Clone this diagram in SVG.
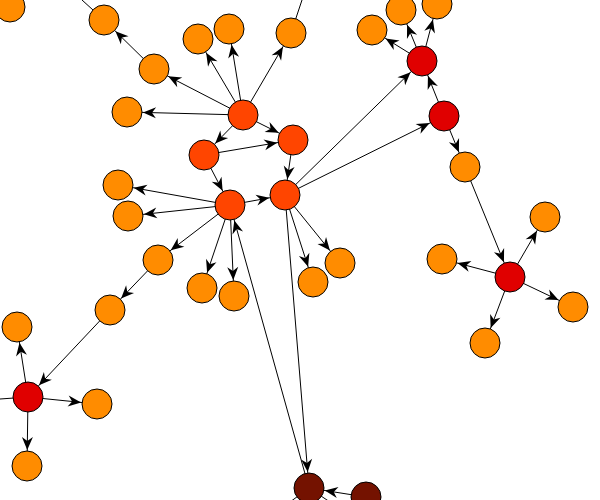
<svg xmlns="http://www.w3.org/2000/svg" width="600" height="500" viewBox="0 0 600 500">
<style>
.e line{stroke:#000;stroke-width:1}
.e line.a{marker-end:url(#arr)}
circle{stroke:#000;stroke-width:1}
.o{fill:#FF8C00}.r{fill:#FF4500}.d{fill:#E00000}.k{fill:#741200}
</style>
<defs>
<marker id="arr" viewBox="-30 -7 32 14" refX="0" refY="0" markerWidth="32" markerHeight="14" markerUnits="userSpaceOnUse" orient="auto" overflow="visible">
<path d="M-16,0 L-29,-5.5 L-25,0 L-29,5.5 Z" fill="#000"/>
</marker>
</defs>
<rect width="600" height="500" fill="#fff"/>
<g class="e" id="edges">
<line x1="104" y1="20" x2="82" y2="0"/>
<line x1="291" y1="33" x2="302" y2="0"/>
<line x1="28" y1="397" x2="0" y2="399"/>
<line x1="309" y1="488" x2="290" y2="502"/>
<line x1="309" y1="488" x2="330" y2="502"/>
<line class="a" x1="154" y1="69" x2="104" y2="20"/>
<line class="a" x1="243" y1="115" x2="154" y2="69"/>
<line class="a" x1="243" y1="115" x2="127" y2="112"/>
<line class="a" x1="243" y1="115" x2="198" y2="39"/>
<line class="a" x1="243" y1="115" x2="229" y2="29"/>
<line class="a" x1="243" y1="115" x2="291" y2="33"/>
<line class="a" x1="243" y1="115" x2="293" y2="140"/>
<line class="a" x1="243" y1="115" x2="204" y2="155"/>
<line class="a" x1="204" y1="155" x2="293" y2="140"/>
<line class="a" x1="204" y1="155" x2="230" y2="205"/>
<line class="a" x1="293" y1="140" x2="285" y2="195"/>
<line class="a" x1="230" y1="205" x2="285" y2="195"/>
<line class="a" x1="230" y1="205" x2="118" y2="185"/>
<line class="a" x1="230" y1="205" x2="128" y2="216"/>
<line class="a" x1="422" y1="61" x2="372" y2="30"/>
<line class="a" x1="422" y1="61" x2="401" y2="10"/>
<line class="a" x1="422" y1="61" x2="437" y2="4"/>
<line class="a" x1="444" y1="116" x2="422" y2="61"/>
<line class="a" x1="444" y1="116" x2="465" y2="167"/>
<line class="a" x1="285" y1="195" x2="422" y2="61"/>
<line class="a" x1="285" y1="195" x2="444" y2="116"/>
<line class="a" x1="465" y1="167" x2="510" y2="277"/>
<line class="a" x1="510" y1="277" x2="442" y2="259"/>
<line class="a" x1="510" y1="277" x2="545" y2="217"/>
<line class="a" x1="510" y1="277" x2="573" y2="307"/>
<line class="a" x1="510" y1="277" x2="485" y2="343"/>
<line class="a" x1="285" y1="195" x2="340" y2="263"/>
<line class="a" x1="285" y1="195" x2="313" y2="282"/>
<line class="a" x1="285" y1="195" x2="309" y2="488"/>
<line class="a" x1="366" y1="497" x2="309" y2="488"/>
<line class="a" x1="309" y1="488" x2="230" y2="205"/>
<line class="a" x1="230" y1="205" x2="158" y2="260"/>
<line class="a" x1="158" y1="260" x2="110" y2="310"/>
<line class="a" x1="110" y1="310" x2="28" y2="397"/>
<line class="a" x1="28" y1="397" x2="17" y2="327"/>
<line class="a" x1="28" y1="397" x2="97" y2="404"/>
<line class="a" x1="28" y1="397" x2="27" y2="466"/>
<line class="a" x1="230" y1="205" x2="202" y2="288"/>
<line class="a" x1="230" y1="205" x2="234" y2="296"/>
</g>
<g id="nA"><circle class="o" cx="10" cy="7" r="15"/></g>
<g id="nB"><circle class="o" cx="104" cy="20" r="15"/></g>
<g id="nC"><circle class="o" cx="154" cy="69" r="15"/></g>
<g id="nD"><circle class="o" cx="127" cy="112" r="15"/></g>
<g id="nE"><circle class="r" cx="243" cy="115" r="15"/></g>
<g id="nF"><circle class="o" cx="198" cy="39" r="15"/></g>
<g id="nG"><circle class="o" cx="229" cy="29" r="15"/></g>
<g id="nH"><circle class="o" cx="291" cy="33" r="15"/></g>
<g id="nI"><circle class="r" cx="293" cy="140" r="15"/></g>
<g id="nJ"><circle class="r" cx="204" cy="155" r="15"/></g>
<g id="nK"><circle class="r" cx="230" cy="205" r="15"/></g>
<g id="nL"><circle class="r" cx="285" cy="195" r="15"/></g>
<g id="nM"><circle class="o" cx="118" cy="185" r="15"/></g>
<g id="nN"><circle class="o" cx="128" cy="216" r="15"/></g>
<g id="nO"><circle class="o" cx="372" cy="30" r="15"/></g>
<g id="nP"><circle class="o" cx="401" cy="10" r="15"/></g>
<g id="nQ"><circle class="o" cx="437" cy="4" r="15"/></g>
<g id="nR"><circle class="d" cx="422" cy="61" r="15"/></g>
<g id="nS"><circle class="d" cx="444" cy="116" r="15"/></g>
<g id="nT"><circle class="o" cx="465" cy="167" r="15"/></g>
<g id="nU"><circle class="o" cx="545" cy="217" r="15"/></g>
<g id="nV"><circle class="d" cx="510" cy="277" r="15"/></g>
<g id="nW"><circle class="o" cx="442" cy="259" r="15"/></g>
<g id="nX"><circle class="o" cx="573" cy="307" r="15"/></g>
<g id="nY"><circle class="o" cx="485" cy="343" r="15"/></g>
<g id="nZ"><circle class="o" cx="340" cy="263" r="15"/></g>
<g id="nAA"><circle class="o" cx="313" cy="282" r="15"/></g>
<g id="nBB"><circle class="k" cx="309" cy="488" r="15"/></g>
<g id="nCC"><circle class="k" cx="366" cy="497" r="15"/></g>
<g id="nDD"><circle class="o" cx="158" cy="260" r="15"/></g>
<g id="nEE"><circle class="o" cx="110" cy="310" r="15"/></g>
<g id="nFF"><circle class="o" cx="17" cy="327" r="15"/></g>
<g id="nGG"><circle class="d" cx="28" cy="397" r="15"/></g>
<g id="nHH"><circle class="o" cx="97" cy="404" r="15"/></g>
<g id="nII"><circle class="o" cx="27" cy="466" r="15"/></g>
<g id="nJJ"><circle class="o" cx="202" cy="288" r="15"/></g>
<g id="nKK"><circle class="o" cx="234" cy="296" r="15"/></g>
</svg>
